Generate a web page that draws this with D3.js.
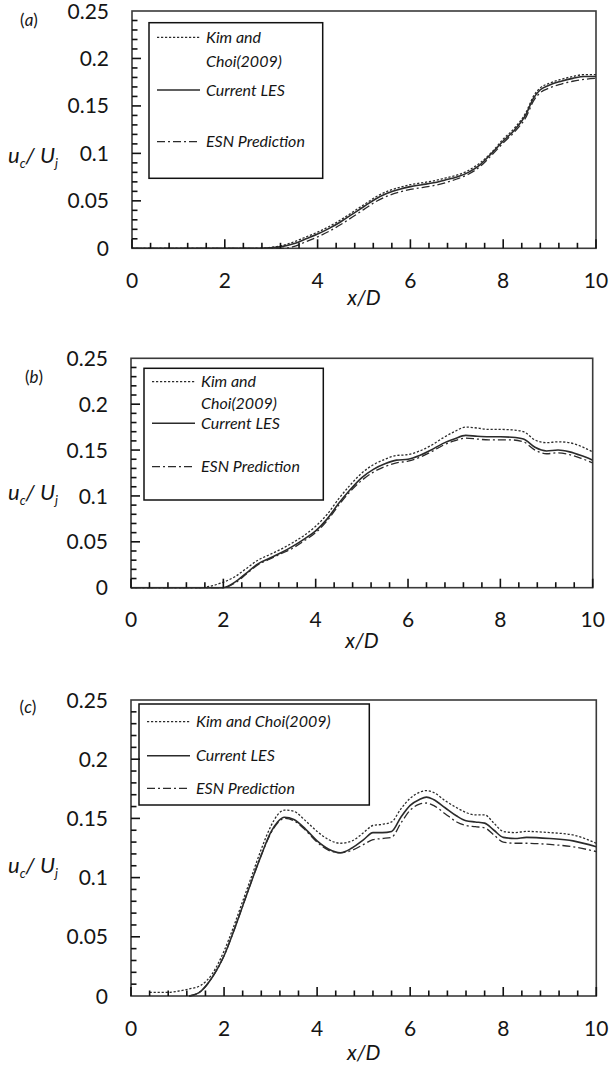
<!DOCTYPE html>
<html>
<head>
<meta charset="utf-8">
<script src="https://cdn.jsdelivr.net/npm/d3@7"></script>
<style>
  html, body { margin: 0; padding: 0; background: #fff; }
  svg { display: block; font-family: Lato, "Open Sans", "DejaVu Sans", sans-serif; }
</style>
</head>
<body>
<svg id="chart" width="610" height="1070"></svg>
<script>
// ---- axis ticks and labels ----
const xTickValues = [0, 2, 4, 6, 8, 10];
const yTickValues = [0, 0.05, 0.1, 0.15, 0.2, 0.25];
const yTickLabels = ["0", "0.05", "0.1", "0.15", "0.2", "0.25"];
const xMinorStep = 0.4;
const yMinorStep = 0.01;
const seriesNames = ["Kim and Choi(2009)", "Current LES", "ESN Prediction"];
const panelTags = ["a", "b", "c"];

// ---- (a) centreline velocity ----
const aX   = [0, 1, 2, 2.5, 2.8, 3, 3.25, 3.5, 3.75, 4, 4.25, 4.5, 4.75, 5, 5.25, 5.5, 5.75, 6, 6.25, 6.5, 6.75, 7, 7.25, 7.5, 7.75, 8, 8.25, 8.5, 8.65, 8.8, 9, 9.25, 9.5, 9.75, 10];
const aKim = [0, 0, 0, 0, 0, 0.001, 0.003, 0.007, 0.012, 0.017, 0.023, 0.030, 0.038, 0.046, 0.054, 0.060, 0.064, 0.067, 0.069, 0.071, 0.074, 0.077, 0.082, 0.090, 0.101, 0.115, 0.127, 0.144, 0.160, 0.169, 0.174, 0.178, 0.181, 0.183, 0.183];
const aLES = [0, 0, 0, 0, 0, 0.0005, 0.002, 0.005, 0.010, 0.015, 0.021, 0.028, 0.036, 0.044, 0.052, 0.058, 0.062, 0.065, 0.067, 0.069, 0.072, 0.075, 0.080, 0.088, 0.100, 0.113, 0.125, 0.142, 0.158, 0.167, 0.172, 0.176, 0.179, 0.181, 0.181];
const aESN = [0, 0, 0, 0, 0, 0, 0, 0.002, 0.007, 0.012, 0.018, 0.025, 0.033, 0.041, 0.049, 0.055, 0.059, 0.062, 0.064, 0.066, 0.069, 0.073, 0.078, 0.086, 0.098, 0.111, 0.123, 0.139, 0.155, 0.164, 0.169, 0.173, 0.176, 0.178, 0.179];

// ---- (b) ----
const bX   = [0, 1, 1.5, 1.75, 2, 2.25, 2.5, 2.75, 3, 3.25, 3.5, 3.75, 4, 4.25, 4.5, 4.75, 5, 5.25, 5.5, 5.75, 6, 6.25, 6.5, 6.75, 7, 7.25, 7.5, 7.75, 8, 8.25, 8.5, 8.75, 9, 9.25, 9.5, 9.75, 10];
const bKim = [0, 0, 0, 0.002, 0.006, 0.012, 0.021, 0.030, 0.036, 0.042, 0.049, 0.057, 0.067, 0.080, 0.097, 0.112, 0.125, 0.134, 0.140, 0.144, 0.145, 0.149, 0.155, 0.163, 0.170, 0.175, 0.174, 0.1725, 0.1725, 0.172, 0.170, 0.161, 0.158, 0.159, 0.158, 0.154, 0.148];
const bLES = [0, 0, 0, 0, 0, 0.006, 0.016, 0.026, 0.032, 0.038, 0.045, 0.053, 0.062, 0.075, 0.092, 0.107, 0.120, 0.129, 0.135, 0.139, 0.140, 0.144, 0.150, 0.157, 0.162, 0.166, 0.165, 0.1645, 0.1645, 0.164, 0.162, 0.153, 0.149, 0.150, 0.148, 0.144, 0.139];
const bESN = [0, 0, 0, 0, 0, 0.005, 0.015, 0.025, 0.031, 0.037, 0.043, 0.051, 0.060, 0.073, 0.090, 0.105, 0.117, 0.126, 0.132, 0.136, 0.138, 0.142, 0.148, 0.155, 0.160, 0.163, 0.162, 0.161, 0.161, 0.161, 0.159, 0.150, 0.146, 0.147, 0.145, 0.141, 0.136];

// ---- (c) ----
const cX   = [0.4, 0.8, 1.0, 1.25, 1.5, 1.75, 2.0, 2.2, 2.4, 2.6, 2.8, 3.0, 3.15, 3.3, 3.5, 3.75, 4.0, 4.25, 4.5, 4.75, 5.0, 5.2, 5.4, 5.6, 5.8, 6.0, 6.2, 6.35, 6.5, 6.75, 7.0, 7.2, 7.4, 7.6, 7.8, 8.0, 8.25, 8.5, 9.0, 9.5, 10.0];
const cKim = [0.003, 0.003, 0.004, 0.006, 0.009, 0.019, 0.038, 0.058, 0.080, 0.102, 0.124, 0.143, 0.153, 0.157, 0.156, 0.148, 0.139, 0.132, 0.129, 0.131, 0.138, 0.144, 0.145, 0.147, 0.158, 0.167, 0.172, 0.1735, 0.172, 0.165, 0.159, 0.155, 0.153, 0.153, 0.146, 0.139, 0.138, 0.139, 0.138, 0.136, 0.129];
const cLES = [null, null, null, 0, 0.004, 0.016, 0.034, 0.054, 0.076, 0.098, 0.119, 0.138, 0.147, 0.151, 0.149, 0.141, 0.131, 0.124, 0.121, 0.125, 0.132, 0.138, 0.138, 0.139, 0.151, 0.161, 0.166, 0.168, 0.166, 0.159, 0.152, 0.148, 0.147, 0.146, 0.140, 0.134, 0.133, 0.134, 0.133, 0.131, 0.126];
const cESN = [null, null, null, 0, 0.004, 0.016, 0.034, 0.054, 0.076, 0.098, 0.119, 0.137, 0.146, 0.150, 0.148, 0.140, 0.130, 0.123, 0.121, 0.123, 0.128, 0.132, 0.133, 0.134, 0.146, 0.157, 0.162, 0.163, 0.161, 0.154, 0.147, 0.144, 0.143, 0.142, 0.136, 0.130, 0.129, 0.129, 0.128, 0.126, 0.122];

// ---- page layout of the three panels ----
const panels = [
  { tag: panelTags[0], xs: aX, series: [aKim, aLES, aESN],
    left: 132, right: 596, top: 11, bottom: 248.3,
    tagAt: [29, 20], yLabelY: 156, xLabelY: 298,
    legend: { x0: 149, y0: 22.7, x1: 322.7, y1: 178.3, rows: [37.3, 90, 141.7], wrapY: 61, split: true } },
  { tag: panelTags[1], xs: bX, series: [bKim, bLES, bESN],
    left: 131, right: 592.7, top: 358.3, bottom: 587.7,
    tagAt: [34, 377], yLabelY: 493, xLabelY: 641,
    legend: { x0: 144, y0: 368.3, x1: 323.3, y1: 500, rows: [381.7, 423.3, 466.7], wrapY: 403.3, split: true } },
  { tag: panelTags[2], xs: cX, series: [cKim, cLES, cESN],
    left: 131, right: 596.3, top: 700, bottom: 996,
    tagAt: [28, 707], yLabelY: 866, xLabelY: 1053,
    legend: { x0: 139, y0: 704, x1: 369.3, y1: 805, rows: [721.7, 755.7, 788.3], split: false } }
];

// line styles: Kim (dotted), LES (solid), ESN (dash-dot)
const styles = [
  { width: 1.3, dash: "2.2,1.8" },
  { width: 1.6, dash: null },
  { width: 1.3, dash: "8,3,2,3" }
];
const curveColor = "#2b2b2b";
const frameColor = "#3a3a3a";
const tickColor = "#111";
const textColor = "#151515";
const tickFont = 21;

const svg = d3.select("#chart");

panels.forEach(p => {
  const x = d3.scaleLinear().domain([0, 10]).range([p.left, p.right]);
  const y = d3.scaleLinear().domain([0, 0.25]).range([p.bottom, p.top]);
  const g = svg.append("g");
  const w = p.right - p.left;
  const h = p.bottom - p.top;

  // tick labels
  g.append("g").selectAll("text")
    .data(xTickValues)
    .join("text")
    .attr("x", d => x(d)).attr("y", p.bottom + 32).attr("dy", "0.36em")
    .attr("text-anchor", "middle").attr("font-size", tickFont).attr("fill", textColor)
    .text(d => d);
  g.append("g").selectAll("text")
    .data(yTickValues)
    .join("text")
    .attr("x", p.left - 23).attr("y", d => y(d)).attr("dy", "0.36em")
    .attr("text-anchor", "end").attr("font-size", tickFont).attr("fill", textColor)
    .text((d, i) => yTickLabels[i]);

  // frame
  g.append("rect")
    .attr("x", p.left).attr("y", p.top).attr("width", w).attr("height", h)
    .attr("fill", "none").attr("stroke", frameColor).attr("stroke-width", 1.6);

  // curves
  p.series.forEach((vals, k) => {
    const pts = p.xs.map((xv, i) => [xv, vals[i]]);
    const line = d3.line()
      .defined(d => d[1] !== null)
      .x(d => x(d[0])).y(d => y(d[1]))
      .curve(d3.curveMonotoneX);
    g.append("path")
      .datum(pts)
      .attr("d", line)
      .attr("fill", "none")
      .attr("stroke", curveColor)
      .attr("stroke-width", styles[k].width)
      .attr("stroke-dasharray", styles[k].dash);
  });

  // legend
  const L = p.legend;
  g.append("rect")
    .attr("x", L.x0).attr("y", L.y0).attr("width", L.x1 - L.x0).attr("height", L.y1 - L.y0)
    .attr("fill", "#fff").attr("stroke", "#111").attr("stroke-width", 1.5);
  seriesNames.forEach((name, k) => {
    const ry = L.rows[k];
    g.append("line")
      .attr("x1", L.x0 + 8).attr("x2", L.x0 + 51)
      .attr("y1", ry).attr("y2", ry)
      .attr("stroke", curveColor)
      .attr("stroke-width", styles[k].width)
      .attr("stroke-dasharray", styles[k].dash);
    const t = g.append("text")
      .attr("x", L.x0 + 57).attr("y", ry).attr("dy", "0.35em")
      .attr("font-size", 16).attr("font-style", "italic").attr("fill", textColor);
    if (k === 0 && L.split) {
      t.text("Kim and");
      g.append("text")
        .attr("x", L.x0 + 57).attr("y", L.wrapY).attr("dy", "0.35em")
        .attr("font-size", 16).attr("font-style", "italic").attr("fill", textColor)
        .text("Choi(2009)");
    } else {
      t.text(name);
    }
  });

  // inward ticks, drawn last so nothing sits over them
  const xMinor = d3.range(0, 10 + 1e-6, xMinorStep);
  const yMinor = d3.range(0, 0.25 + 1e-6, yMinorStep);
  const isMajorX = d => xTickValues.some(t => Math.abs(t - d) < 1e-6);
  const isMajorY = d => yTickValues.some(t => Math.abs(t - d) < 1e-6);

  svg.append("g").selectAll("line")
    .data(xMinor)
    .join("line")
    .attr("x1", d => x(d)).attr("x2", d => x(d))
    .attr("y1", p.bottom)
    .attr("y2", d => p.bottom - (isMajorX(d) ? 9 : 5.5))
    .attr("stroke", tickColor).attr("stroke-width", 1.6);

  svg.append("g").selectAll("line")
    .data(yMinor.filter(d => d > 1e-6 && d < 0.25 - 1e-6))
    .join("line")
    .attr("x1", p.left)
    .attr("x2", d => p.left + (isMajorY(d) ? 9 : 5.5))
    .attr("y1", d => y(d)).attr("y2", d => y(d))
    .attr("stroke", tickColor).attr("stroke-width", 1.6);

  // panel tag
  const tg = svg.append("text")
    .attr("x", p.tagAt[0]).attr("y", p.tagAt[1]).attr("dy", "0.35em")
    .attr("text-anchor", "middle").attr("font-size", 17).attr("fill", textColor);
  tg.append("tspan").text("(");
  tg.append("tspan").attr("font-style", "italic").text(p.tag);
  tg.append("tspan").text(")");

  // y label u_c / U_j
  const yl = svg.append("text")
    .attr("x", 8).attr("y", p.yLabelY).attr("dy", "0.3em")
    .attr("font-size", 22).attr("font-style", "italic").attr("fill", textColor);
  yl.append("tspan").text("u");
  yl.append("tspan").attr("font-size", 13).attr("dy", 5).text("c");
  yl.append("tspan").attr("dy", -5).text("/ U");
  yl.append("tspan").attr("font-size", 13).attr("dy", 5).text("j");

  // x label
  svg.append("text")
    .attr("x", (p.left + p.right) / 2).attr("y", p.xLabelY).attr("dy", "0.35em")
    .attr("text-anchor", "middle").attr("font-size", 21).attr("font-style", "italic")
    .attr("fill", textColor).text("x/D");
});
</script>
</body>
</html>
